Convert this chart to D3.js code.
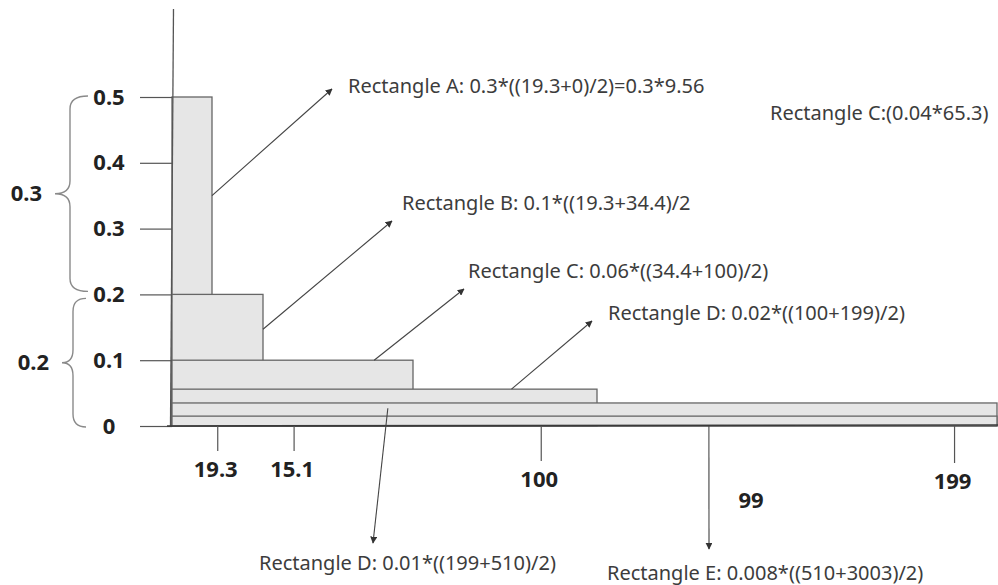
<!DOCTYPE html>
<html>
<head>
<meta charset="utf-8">
<script src="https://cdn.jsdelivr.net/npm/d3@7"></script>
<style>
    body { margin: 0; background: #fff; }
    svg { display: block; }
</style>
</head>
<body>
<div id="chart"></div>
<script>
// rectangles (drawn from baseline): right edge on x, height on y
const rectNames = ["A", "B", "C", "D", "E", "F"];
const rectRight = [19.3, 34.4, 100, 199, 510, 3003];
const rectHeight = [0.5, 0.2, 0.1, 0.056, 0.035, 0.015];

// axis ticks
const yTicks = [0, 0.1, 0.2, 0.3, 0.4, 0.5];
const xTickLabels = ["19.3", "15.1", "100", "199"];
const xTickValues = [21, 48, 169, 477];

// braces on the left of the y axis
const braceLabels = ["0.3", "0.2"];
const braceFrom = [0.2, 0];
const braceTo = [0.5, 0.2];

// annotations: text and where the arrow starts (data units)
const noteTexts = [
    "Rectangle A: 0.3*((19.3+0)/2)=0.3*9.56",
    "Rectangle B: 0.1*((19.3+34.4)/2",
    "Rectangle C: 0.06*((34.4+100)/2)",
    "Rectangle D: 0.02*((100+199)/2)",
    "Rectangle D: 0.01*((199+510)/2)",
    "Rectangle E: 0.008*((510+3003)/2)"
];
const noteFromX = [19.3, 34.4, 83, 153, 89, 286];
const noteFromY = [0.35, 0.147, 0.1, 0.056, 0.027, 0];
const extraNote = "Rectangle C:(0.04*65.3)";
const extraLabel = "99";

// ---- layout (pixels) ----
const width = 998, height = 585;
const noteTip = [[332, 89], [392, 221], [464, 289], [592, 321], [373, 543], [709, 549]];
const noteAt = [[348, 86], [402, 203], [468, 271], [608, 313], [259, 563], [607, 573]];
const xTickDrop = [25, 25, 35, 37];

const svg = d3.select("#chart").append("svg")
    .attr("width", width)
    .attr("height", height);

// scales: the x axis of the sketch is not to scale, so it is piecewise
const x = d3.scaleLinear()
    .domain([0, 19.3, 34.4, 100, 199, 510])
    .range([172, 212, 263, 413, 597, 997])
    .clamp(true);

const y = d3.scaleLinear()
    .domain([0, 0.5])
    .range([426, 97]);

svg.append("defs").append("marker")
    .attr("id", "head")
    .attr("viewBox", "0 0 10 10")
    .attr("refX", 9)
    .attr("refY", 5)
    .attr("markerWidth", 7)
    .attr("markerHeight", 7)
    .attr("markerUnits", "userSpaceOnUse")
    .attr("orient", "auto")
    .append("path")
    .attr("d", "M0,0 L10,5 L0,10 z")
    .attr("fill", "#333");

// rectangles, narrowest first so wider ones overlap the lower part
let rects = rectNames.map((n, i) => ({name: n, right: rectRight[i], h: rectHeight[i]}));

svg.append("g").selectAll("rect")
    .data(rects)
    .enter().append("rect")
    .attr("x", x(0))
    .attr("y", d => y(d.h))
    .attr("width", d => x(d.right) - x(0))
    .attr("height", d => y(0) - y(d.h))
    .attr("fill", "#e6e6e6")
    .attr("stroke", "#666")
    .attr("stroke-width", 1.3);

// y axis
let yAxis = d3.axisLeft(y)
    .tickValues(yTicks)
    .tickSize(32)
    .tickFormat(d3.format(""));

let yg = svg.append("g")
    .attr("transform", "translate(172,0)")
    .call(yAxis);

yg.select(".domain").remove();
yg.selectAll(".tick line").attr("stroke", "#555").attr("stroke-width", 1.2);
yg.selectAll(".tick text")
    .attr("x", -63)
    .attr("text-anchor", "middle")
    .attr("fill", "#222")
    .style("font-family", "'Noto Sans', sans-serif")
    .style("font-size", "22px")
    .style("font-weight", "bold");

// hand drawn axis lines
svg.append("line")
    .attr("x1", 173.5).attr("y1", 9)
    .attr("x2", 170.5).attr("y2", y(0))
    .attr("stroke", "#555")
    .attr("stroke-width", 1.3);

svg.append("line")
    .attr("x1", 167).attr("y1", y(0))
    .attr("x2", width).attr("y2", y(0) - 1)
    .attr("stroke", "#3a3a3a")
    .attr("stroke-width", 1.6);

// x ticks
let xt = svg.append("g").selectAll("g")
    .data(xTickLabels)
    .enter().append("g");

xt.append("line")
    .attr("x1", (d, i) => x(xTickValues[i]))
    .attr("x2", (d, i) => x(xTickValues[i]))
    .attr("y1", y(0))
    .attr("y2", (d, i) => y(0) + xTickDrop[i])
    .attr("stroke", "#555")
    .attr("stroke-width", 1.2);

xt.append("text")
    .attr("x", (d, i) => x(xTickValues[i]) - 2)
    .attr("y", (d, i) => y(0) + xTickDrop[i] + 18)
    .attr("dy", "0.35em")
    .attr("text-anchor", "middle")
    .attr("fill", "#222")
    .style("font-family", "'Noto Sans', sans-serif")
    .style("font-size", "22px")
    .style("font-weight", "bold")
    .text(d => d);

svg.append("text")
    .attr("x", 751)
    .attr("y", 500)
    .attr("dy", "0.35em")
    .attr("text-anchor", "middle")
    .attr("fill", "#222")
    .style("font-family", "'Noto Sans', sans-serif")
    .style("font-size", "22px")
    .style("font-weight", "bold")
    .text(extraLabel);

// braces
function brace(xe, xb, xt, y0, y1) {
    let r = 13, ym = (y0 + y1) / 2;
    return "M" + xe + "," + y0 +
        " Q" + xb + "," + y0 + " " + xb + "," + (y0 + r) +
        " L" + xb + "," + (ym - r) +
        " Q" + xb + "," + ym + " " + xt + "," + ym +
        " Q" + xb + "," + ym + " " + xb + "," + (ym + r) +
        " L" + xb + "," + (y1 - r) +
        " Q" + xb + "," + y1 + " " + xe + "," + y1;
}

let braceX = [[88, 70, 55], [86, 73, 62]];

braceLabels.forEach(function (lab, i) {
    let top = y(braceTo[i]) - 1, bot = y(braceFrom[i]) + (i === 0 ? -3 : 1);
    if (i === 1) top = y(braceTo[i]) + 4;
    svg.append("path")
        .attr("d", brace(braceX[i][0], braceX[i][1], braceX[i][2], top, bot))
        .attr("fill", "none")
        .attr("stroke", "#8a8a8a")
        .attr("stroke-width", 1.4);

    svg.append("text")
        .attr("x", braceX[i][2] - 13)
        .attr("y", (top + bot) / 2)
        .attr("dy", "0.35em")
        .attr("text-anchor", "end")
        .attr("fill", "#222")
        .style("font-family", "'Noto Sans', sans-serif")
        .style("font-size", "22px")
        .style("font-weight", "bold")
        .text(lab);
});

// annotations
let notes = noteTexts.map((t, i) => ({text: t, fx: noteFromX[i], fy: noteFromY[i], tip: noteTip[i], at: noteAt[i]}));

svg.append("g").selectAll("line")
    .data(notes)
    .enter().append("line")
    .attr("x1", d => x(d.fx))
    .attr("y1", d => y(d.fy))
    .attr("x2", d => d.tip[0])
    .attr("y2", d => d.tip[1])
    .attr("stroke", "#444")
    .attr("stroke-width", 1.1)
    .attr("marker-end", "url(#head)");

svg.append("g").selectAll("text")
    .data(notes)
    .enter().append("text")
    .attr("x", d => d.at[0])
    .attr("y", d => d.at[1])
    .attr("dy", "0.35em")
    .attr("fill", "#3c3c3c")
    .style("font-family", "'Noto Sans', sans-serif")
    .style("font-size", "20px")
    .text(d => d.text);

svg.append("text")
    .attr("x", 770)
    .attr("y", 113)
    .attr("dy", "0.35em")
    .attr("fill", "#3c3c3c")
    .style("font-family", "'Noto Sans', sans-serif")
    .style("font-size", "20px")
    .text(extraNote);
</script>
</body>
</html>
